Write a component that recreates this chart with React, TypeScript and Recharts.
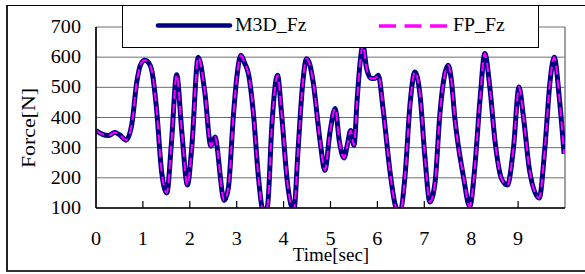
import React from "react";
import { LineChart, Line, XAxis, YAxis, CartesianGrid, ReferenceLine, Legend } from "recharts";

const times = [
  0.0, 0.13, 0.26, 0.4, 0.5, 0.64, 0.76, 0.87, 0.95, 1.04, 1.12, 1.19, 1.29, 1.4, 1.51, 1.61, 1.72, 1.83, 1.95, 2.04,
  2.18, 2.32, 2.45, 2.54, 2.6, 2.64, 2.73, 2.82, 2.93, 3.0, 3.09, 3.17, 3.25, 3.36, 3.46, 3.55, 3.6, 3.66, 3.75, 3.87,
  3.96, 4.08, 4.18, 4.22, 4.31, 4.4, 4.49, 4.56, 4.63, 4.78, 4.88, 4.99, 5.1, 5.19, 5.29, 5.36, 5.43, 5.5, 5.57, 5.63,
  5.69, 5.77, 5.87, 5.95, 6.02, 6.12, 6.27, 6.38, 6.44, 6.5, 6.59, 6.7, 6.8, 6.91, 7.01, 7.12, 7.23, 7.33, 7.42, 7.51,
  7.58, 7.65, 7.83, 7.97, 8.08, 8.19, 8.29, 8.4, 8.51, 8.65, 8.77, 8.9, 9.02, 9.11, 9.25, 9.45, 9.57, 9.68, 9.77, 9.88,
  9.98,
];

const m3dFz = [
  357, 345, 340, 350, 343, 325, 374, 518, 575, 590, 582, 556, 430, 219, 150, 319, 542, 352, 176, 297,
  600, 484, 305, 335, 280, 219, 125, 164, 407, 530, 606, 580, 545, 407, 208, 95, 85, 110, 374, 540,
  407, 186, 100, 95, 297, 500, 595, 575, 518, 319, 225, 352, 430, 319, 266, 310, 357, 308, 463, 580,
  640, 562, 529, 530, 540, 430, 219, 110, 90, 95, 208, 451, 551, 473, 275, 120, 186, 407, 530, 573,
  520, 400, 208, 105, 241, 463, 612, 496, 319, 196, 176, 297, 501, 407, 219, 133, 297, 518, 600, 463,
  280,
];

const fpFz = [
  357, 345, 340, 350, 343, 325, 374, 518, 575, 590, 582, 556, 430, 219, 150, 319, 542, 352, 176, 297,
  600, 484, 305, 335, 280, 219, 125, 164, 407, 530, 606, 580, 545, 407, 208, 95, 85, 110, 374, 540,
  407, 186, 100, 95, 297, 500, 595, 575, 518, 319, 225, 352, 430, 319, 266, 310, 357, 308, 463, 580,
  640, 562, 529, 530, 540, 430, 219, 110, 90, 95, 208, 451, 551, 473, 275, 120, 186, 407, 530, 573,
  520, 400, 208, 105, 241, 463, 612, 496, 319, 196, 176, 297, 501, 407, 219, 133, 297, 518, 600, 463,
  280,
];

const xTicks = [0, 1, 2, 3, 4, 5, 6, 7, 8, 9];
const yTicks = [100, 200, 300, 400, 500, 600, 700];
const innerTicks = [1, 2, 3, 4, 5, 6, 7, 8, 9];

const data = times.map((t, i) => ({ t, m3d: m3dFz[i], fp: fpFz[i] }));

const FONT = "'Liberation Serif', 'Times New Roman', serif";

const YTick = (props: any) => {
  const { x, y, payload } = props;
  return (
    <text
      transform={`translate(${x},${y}) scale(1.12,1)`}
      textAnchor="end"
      dominantBaseline="central"
      fontFamily={FONT}
      fontSize={18}
      fill="#000"
    >
      {payload.value}
    </text>
  );
};

const XTick = (props: any) => {
  const { x, y, payload } = props;
  return (
    <text
      transform={`translate(${x},${y + 36.5}) scale(1.12,1)`}
      textAnchor="middle"
      fontFamily={FONT}
      fontSize={18}
      fill="#000"
    >
      {payload.value}
    </text>
  );
};

const LegendBox = () => (
  <div
    style={{
      position: "relative",
      width: 417,
      height: 43,
      boxSizing: "border-box",
      border: "1px solid #000",
      background: "#fff",
      fontFamily: FONT,
      fontSize: 18,
      color: "#000",
    }}
  >
    <svg width={417} height={43} style={{ position: "absolute", left: -1, top: -1 }}>
      <line x1={36} y1={20.5} x2={108} y2={20.5} stroke="#000080" strokeWidth={4.5} strokeLinecap="round" />
      <line x1={257} y1={21} x2={326} y2={21} stroke="#FF00FF" strokeWidth={3.5} strokeDasharray="17 8.5" />
    </svg>
    <span
      style={{
        position: "absolute",
        left: 112,
        top: 9,
        lineHeight: "20px",
        whiteSpace: "nowrap",
        transform: "scale(1.1,1)",
        transformOrigin: "left center",
      }}
    >
      M3D_Fz
    </span>
    <span
      style={{
        position: "absolute",
        left: 330,
        top: 9,
        lineHeight: "20px",
        whiteSpace: "nowrap",
        transform: "scale(1.1,1)",
        transformOrigin: "left center",
      }}
    >
      FP_Fz
    </span>
  </div>
);

export default function App() {
  return (
    <div style={{ position: "absolute", left: 0, top: 0, width: 585, height: 274, overflow: "hidden", background: "#fff" }}>
      <div
        style={{
          position: "absolute",
          left: 6,
          top: 5,
          width: 640,
          height: 267,
          boxSizing: "border-box",
          borderLeft: "2px solid #222",
          borderBottom: "2px solid #333",
          borderTop: "1.5px solid #000",
        }}
      />
      <LineChart
        width={585}
        height={274}
        data={data}
        margin={{ top: 27, right: 20, bottom: 36, left: 0 }}
        style={{ position: "absolute", left: 0, top: 0 }}
      >
        <CartesianGrid horizontal vertical={false} stroke="#6e6e6e" strokeWidth={1} />
        <ReferenceLine x={10} stroke="#808080" strokeWidth={1.5} />
        <XAxis
          dataKey="t"
          type="number"
          domain={[0, 10]}
          ticks={xTicks}
          allowDataOverflow
          height={30}
          tickSize={0}
          tickMargin={0}
          tickLine={false}
          axisLine={{ stroke: "#000", strokeWidth: 1.7 }}
          tick={<XTick />}
          interval={0}
        />
        <YAxis
          type="number"
          domain={[100, 700]}
          ticks={yTicks}
          allowDataOverflow
          width={96}
          tickSize={0}
          tickMargin={15}
          tickLine={false}
          axisLine={{ stroke: "#000", strokeWidth: 1.7 }}
          tick={<YTick />}
          interval={0}
        />
        {innerTicks.map((v) => (
          <ReferenceLine
            key={v}
            segment={[
              { x: v, y: 100 },
              { x: v, y: 123 },
            ]}
            stroke="#000"
            strokeWidth={1.2}
          />
        ))}
        <Line
          type="monotone"
          dataKey="m3d"
          name="M3D_Fz"
          stroke="#000080"
          strokeWidth={5}
          dot={false}
          isAnimationActive={false}
        />
        <Line
          type="monotone"
          dataKey="fp"
          name="FP_Fz"
          stroke="#FF00FF"
          strokeWidth={2}
          strokeDasharray="9 5"
          dot={false}
          isAnimationActive={false}
        />
        <Legend
          layout="horizontal"
          verticalAlign="middle"
          align="center"
          content={<LegendBox />}
          wrapperStyle={{ position: "absolute", left: 122, top: 5, width: 417, height: 43 }}
        />
      </LineChart>
      <div
        style={{
          position: "absolute",
          left: 331,
          top: 247.5,
          transform: "translateX(-50%)",
          fontFamily: FONT,
          fontSize: 19,
          lineHeight: "14px",
          whiteSpace: "nowrap",
          color: "#000",
        }}
      >
        Time[sec]
      </div>
      <div
        style={{
          position: "absolute",
          left: 29,
          top: 128,
          transform: "translate(-50%,-50%) rotate(-90deg) scale(1.15,1)",
          fontFamily: FONT,
          fontSize: 19,
          lineHeight: "20px",
          whiteSpace: "nowrap",
          color: "#000",
        }}
      >
        Force[N]
      </div>
    </div>
  );
}
